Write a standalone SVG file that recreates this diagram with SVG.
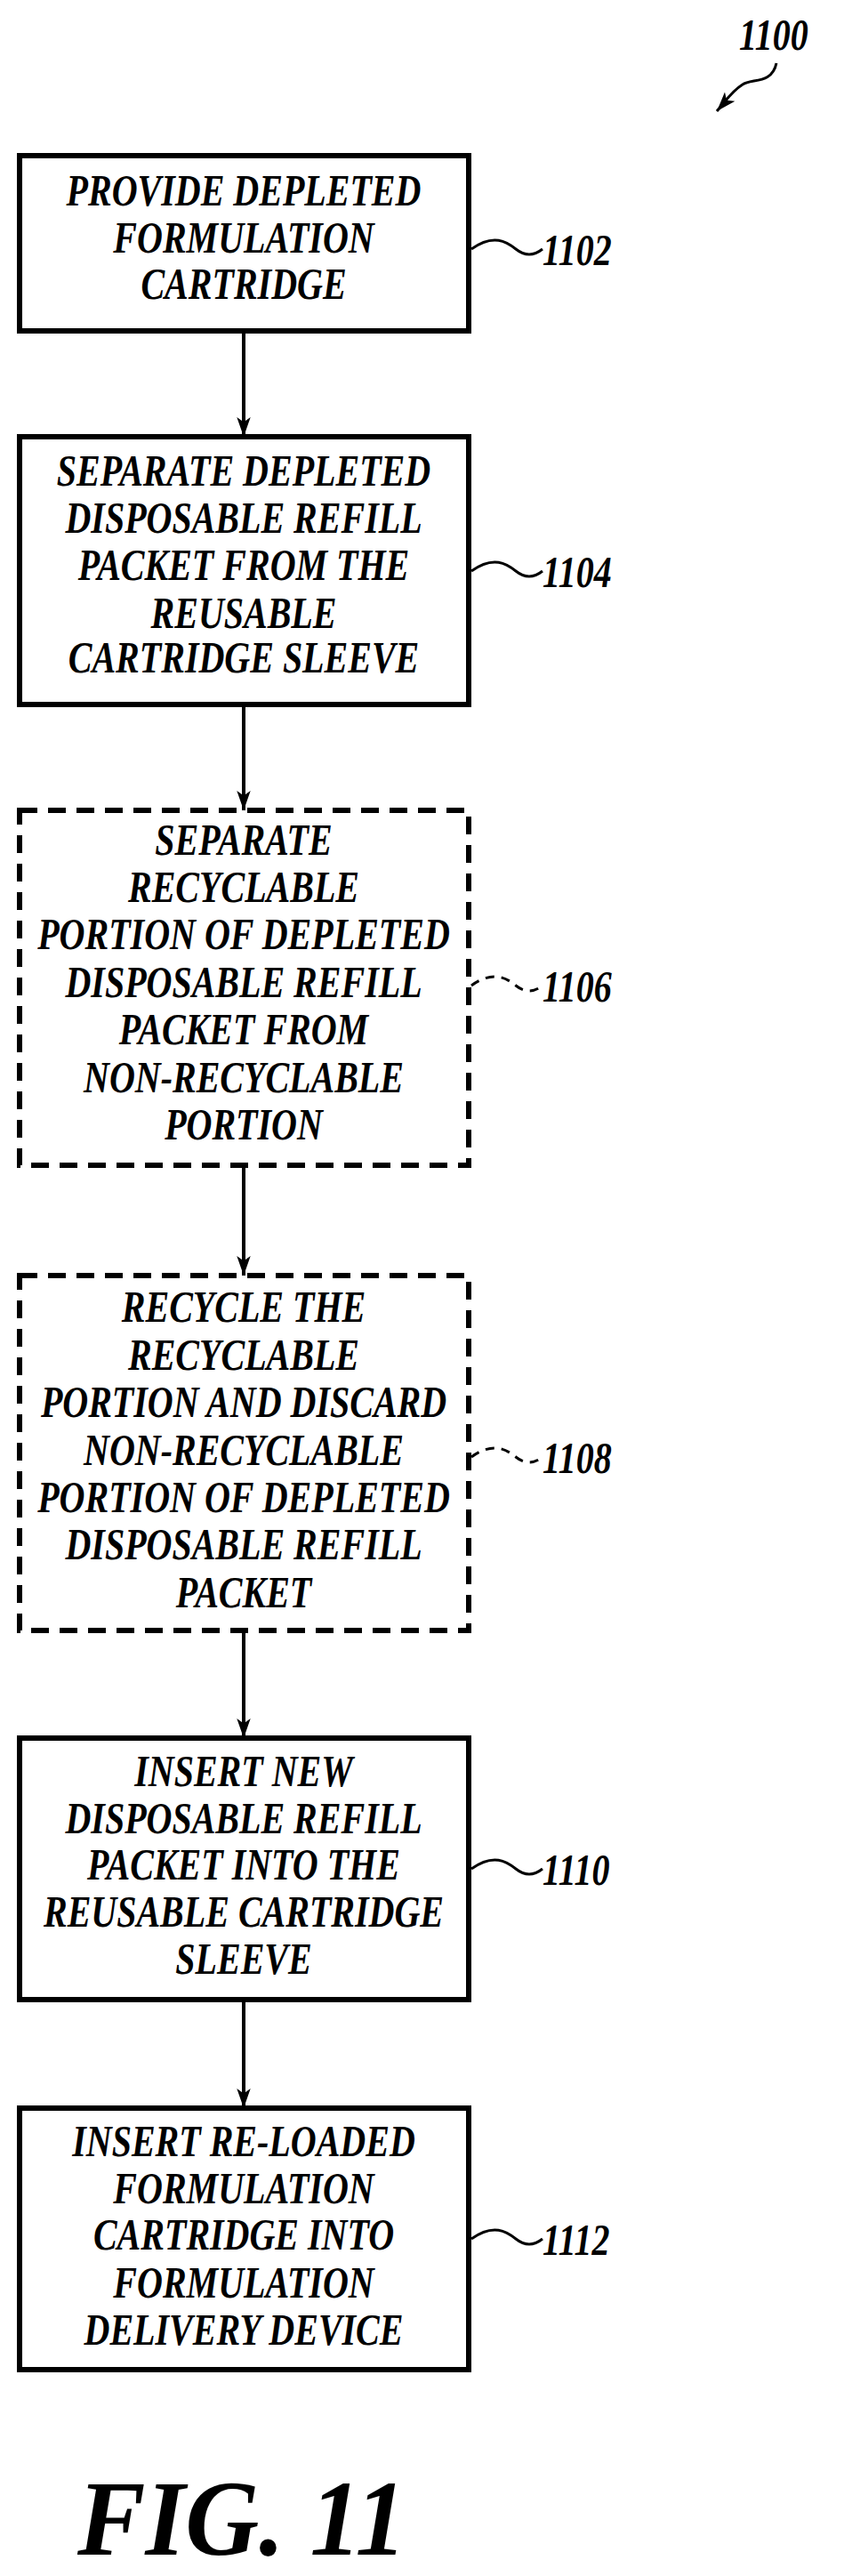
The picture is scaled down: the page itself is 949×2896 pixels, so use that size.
<svg xmlns="http://www.w3.org/2000/svg" width="949" height="2896" viewBox="0 0 949 2896">
<style>
.b{fill:none;stroke:#000;stroke-width:6}
.d{stroke-dasharray:20 12}
.t{font-family:"Liberation Serif",serif;font-weight:bold;font-style:italic;font-size:50px;text-anchor:middle}
.l{font-family:"Liberation Serif",serif;font-weight:bold;font-style:italic;font-size:50px}
.c{fill:none;stroke:#000;stroke-width:4}
.s{fill:none;stroke:#000;stroke-width:3}
</style>
<defs><marker id="a" markerWidth="10" markerHeight="10" refX="9" refY="5" orient="auto" markerUnits="userSpaceOnUse" viewBox="0 0 10 10"><path d="M0,0L10,5L0,10z" transform="scale(1)"/></marker>
<marker id="h" viewBox="0 0 20 20" refX="20" refY="10" markerWidth="22" markerHeight="22" markerUnits="userSpaceOnUse" orient="auto"><path d="M0,3L20,10L0,17L5,10z"/></marker></defs>
<g id="ref1100"><text class="l" x="831" y="56" transform="translate(831,0) scale(0.8,1) translate(-831,0)">1100</text><path class="s" d="M873,71 C868,95 845,88 835,95 C822,103 815,115 806,125" marker-end="url(#h)"/></g>
<g id="n1102"><rect class="b" x="22" y="175" width="505" height="197"/>
<g transform="translate(274,0) scale(0.8,1)"><text class="t" x="0" y="231">PROVIDE DEPLETED</text><text class="t" x="0" y="284">FORMULATION</text><text class="t" x="0" y="336">CARTRIDGE</text></g>
<path class="s" d="M530,280 C555,262 570,272 580,280 C590,288 600,288 610,280"/><text class="l" x="610" y="298" transform="translate(610,0) scale(0.8,1) translate(-610,0)">1102</text></g>
<g id="n1104"><rect class="b" x="22" y="491" width="505" height="301"/>
<g transform="translate(274,0) scale(0.8,1)"><text class="t" x="0" y="546">SEPARATE DEPLETED</text><text class="t" x="0" y="599">DISPOSABLE REFILL</text><text class="t" x="0" y="652">PACKET FROM THE</text><text class="t" x="0" y="706">REUSABLE</text><text class="t" x="0" y="756">CARTRIDGE SLEEVE</text></g>
<path class="s" d="M530,642 C555,624 570,634 580,642 C590,650 600,650 610,642"/><text class="l" x="610" y="660" transform="translate(610,0) scale(0.8,1) translate(-610,0)">1104</text></g>
<g id="n1106"><rect class="b d" x="22" y="911" width="505" height="399"/>
<g transform="translate(274,0) scale(0.8,1)"><text class="t" x="0" y="961">SEPARATE</text><text class="t" x="0" y="1014">RECYCLABLE</text><text class="t" x="0" y="1067">PORTION OF DEPLETED</text><text class="t" x="0" y="1121">DISPOSABLE REFILL</text><text class="t" x="0" y="1174">PACKET FROM</text><text class="t" x="0" y="1228">NON-RECYCLABLE</text><text class="t" x="0" y="1281">PORTION</text></g>
<path class="s d" style="stroke-dasharray:10 8" d="M530,1108 C555,1090 570,1100 580,1108 C590,1116 600,1116 610,1108"/><text class="l" x="610" y="1126" transform="translate(610,0) scale(0.8,1) translate(-610,0)">1106</text></g>
<g id="n1108"><rect class="b d" x="22" y="1434" width="505" height="399"/>
<g transform="translate(274,0) scale(0.8,1)"><text class="t" x="0" y="1486">RECYCLE THE</text><text class="t" x="0" y="1540">RECYCLABLE</text><text class="t" x="0" y="1593">PORTION AND DISCARD</text><text class="t" x="0" y="1647">NON-RECYCLABLE</text><text class="t" x="0" y="1700">PORTION OF DEPLETED</text><text class="t" x="0" y="1753">DISPOSABLE REFILL</text><text class="t" x="0" y="1807">PACKET</text></g>
<path class="s" style="stroke-dasharray:10 8" d="M530,1638 C555,1620 570,1630 580,1638 C590,1646 600,1646 610,1638"/><text class="l" x="610" y="1656" transform="translate(610,0) scale(0.8,1) translate(-610,0)">1108</text></g>
<g id="n1110"><rect class="b" x="22" y="1954" width="505" height="294"/>
<g transform="translate(274,0) scale(0.8,1)"><text class="t" x="0" y="2008">INSERT NEW</text><text class="t" x="0" y="2061">DISPOSABLE REFILL</text><text class="t" x="0" y="2113">PACKET INTO THE</text><text class="t" x="0" y="2166">REUSABLE CARTRIDGE</text><text class="t" x="0" y="2219">SLEEVE</text></g>
<path class="s" d="M530,2101 C555,2083 570,2093 580,2101 C590,2109 600,2109 610,2101"/><text class="l" x="610" y="2119" transform="translate(610,0) scale(0.8,1) translate(-610,0)">1110</text></g>
<g id="n1112"><rect class="b" x="22" y="2370" width="505" height="294"/>
<g transform="translate(274,0) scale(0.8,1)"><text class="t" x="0" y="2424">INSERT RE-LOADED</text><text class="t" x="0" y="2477">FORMULATION</text><text class="t" x="0" y="2529">CARTRIDGE INTO</text><text class="t" x="0" y="2583">FORMULATION</text><text class="t" x="0" y="2636">DELIVERY DEVICE</text></g>
<path class="s" d="M530,2517 C555,2499 570,2509 580,2517 C590,2525 600,2525 610,2517"/><text class="l" x="610" y="2535" transform="translate(610,0) scale(0.8,1) translate(-610,0)">1112</text></g>
<g id="connectors">
<path class="c" d="M274,375V491" marker-end="url(#h)"/>
<path class="c" d="M274,795V911" marker-end="url(#h)"/>
<path class="c" d="M274,1313V1434" marker-end="url(#h)"/>
<path class="c" d="M274,1836V1954" marker-end="url(#h)"/>
<path class="c" d="M274,2251V2370" marker-end="url(#h)"/>
</g>
<text font-family="Liberation Serif,serif" font-weight="bold" font-style="italic" font-size="120" x="87" y="2872" textLength="370" lengthAdjust="spacingAndGlyphs">FIG. 11</text>
</svg>
